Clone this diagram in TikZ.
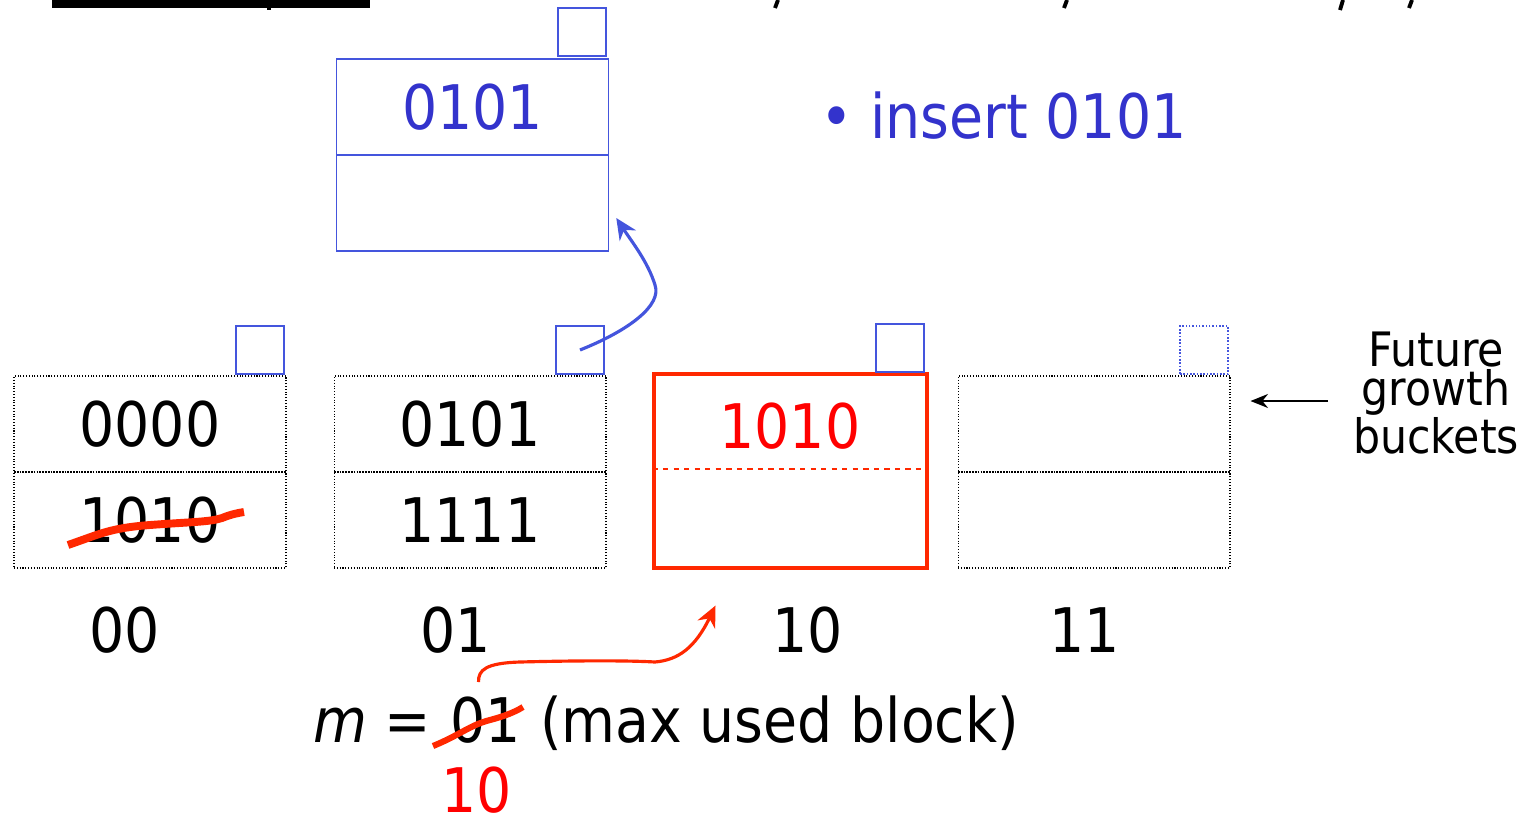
\documentclass[tikz,border=0pt]{standalone}
\usepackage{fontspec}
\setmainfont{DejaVu Sans Condensed}
\usetikzlibrary{arrows.meta,positioning}
\definecolor{tblue}{RGB}{51,51,204}
\definecolor{lblue}{RGB}{68,85,221}
\definecolor{tred}{RGB}{255,0,0}
\definecolor{sred}{RGB}{255,40,0}
\tikzset{
  big/.style={font=\fontsize{35}{40}\selectfont},
  cell/.style={draw, densely dotted, line width=0.6pt, minimum width=5.44cm, minimum height=1.92cm, inner sep=0pt, big},
  bcell/.style={draw=lblue, line width=0.9pt, minimum width=5.44cm, minimum height=1.92cm, inner sep=0pt, big, text=tblue},
  ptr/.style={draw=lblue, line width=0.9pt, minimum size=0.96cm, inner sep=0pt},
  strike/.style={draw=sred, line width=4.5pt},
  redarrow/.style={draw=sred, line width=1.8pt, -{Stealth[length=12pt,width=11pt]}},
  bluearrow/.style={draw=lblue, line width=1.8pt, -{Stealth[length=12pt,width=11pt]}},
}
\begin{document}
\begin{tikzpicture}[x=0.02cm,y=-0.02cm]
\useasboundingbox (0,0) rectangle (1522,819);
% cut-off heading fragments
\fill (52,0) rectangle (370,8);
\fill (267,0) rectangle (271,10);
\draw[line width=2.2pt] (778,0) -- (775,8);
\draw[line width=2.2pt] (1067,0) -- (1064,8);
\draw[line width=2.2pt] (1343,0) -- (1340,10);
\draw[line width=2.2pt] (1412,0) -- (1409,8);

% new bucket (top)
\node[bcell] (na) at (472.5,107) {0101};
\node[bcell] (nb) at (472.5,203) {};
\node[ptr] (pn) at (582,32) {};

% bullet text
\node[big, text=tblue, anchor=base west] (ins) at (814,138) {\textbullet\ insert 0101};

% bucket 00
\node[cell] (a0) at (150,424) {0000};
\node[cell] (b0) at (150,520) {1010};
\node[ptr] (p0) at (260,350) {};
% bucket 01
\node[cell] (a1) at (470,424) {0101};
\node[cell] (b1) at (470,520) {1111};
\node[ptr] (p1) at (580,350) {};
% bucket 10 (red)
\node[draw=sred, line width=1.8pt, minimum width=5.46cm, minimum height=3.88cm, inner sep=0pt] (r10) at (790.5,471) {};
\node[big, text=tred] (a2) at (790,426) {1010};
\draw[sred, line width=1pt, dashed] (r10.west |- 0,469) -- (r10.east |- 0,469);
\node[ptr] (p2) at (900,348) {};
% bucket 11 (future)
\node[cell] (a3) at (1094,424) {};
\node[cell] (b3) at (1094,520) {};
\node[ptr, densely dotted] (p3) at (1204,350) {};

% bucket labels
\node[big] (l00) at (125,630) {00};
\node[big] (l01) at (456,630) {01};
\node[big] (l10) at (808,630) {10};
\node[big] (l11) at (1085,630) {11};

% future growth buckets
\node[align=center, font=\fontsize{27}{22}\selectfont, inner sep=0pt] (fut) at (1436,393) {Future\\growth\\buckets};
\coordinate (arrs) at (1328,401);
\draw[line width=0.9pt, -{Stealth[length=10pt,width=8pt]}] (arrs) -- ([xshift=0.4cm]a3.east |- arrs);

% strike on 1010 in bucket 00
\draw[strike] (68,545) .. controls (100,534) and (110,528) .. (150,525) .. controls (190,522) and (210,522) .. (222,518) .. controls (232,514) and (238,513) .. (244,512);

% blue pointer arrow
\draw[bluearrow] (p1.center) .. controls (630,330) and (662,305) .. (655,285) .. controls (648,262) and (632,242) .. ([xshift=0.14cm, yshift=-0.3cm]nb.east);

% m line
\node[big, anchor=base west, inner sep=0pt] (meq) at (313,742) {\itshape m\upshape\ =};
\node[big, anchor=base west, inner sep=0pt] (m01) at (450,742) {01};
\node[big, anchor=base west, inner sep=0pt] (mrest) at (540,742) {(max used block)};
\node[big, text=tred] (m10) at (477,790) {10};
\draw[strike, line width=3.5pt] (433,746) .. controls (460,735) and (470,725) .. (490,720) .. controls (505,716) and (515,712) .. (523,707);

% red arrow m -> 10
\draw[redarrow] ([xshift=-0.14cm, yshift=0.28cm]m01.north) .. controls (478,670) and (486,663) .. (520,662) .. controls (560,661) and (620,660) .. (655,662) .. controls (678,660) and (695,648) .. ([xshift=-1.85cm, yshift=-0.1cm]l10.north);
\end{tikzpicture}
\end{document}
